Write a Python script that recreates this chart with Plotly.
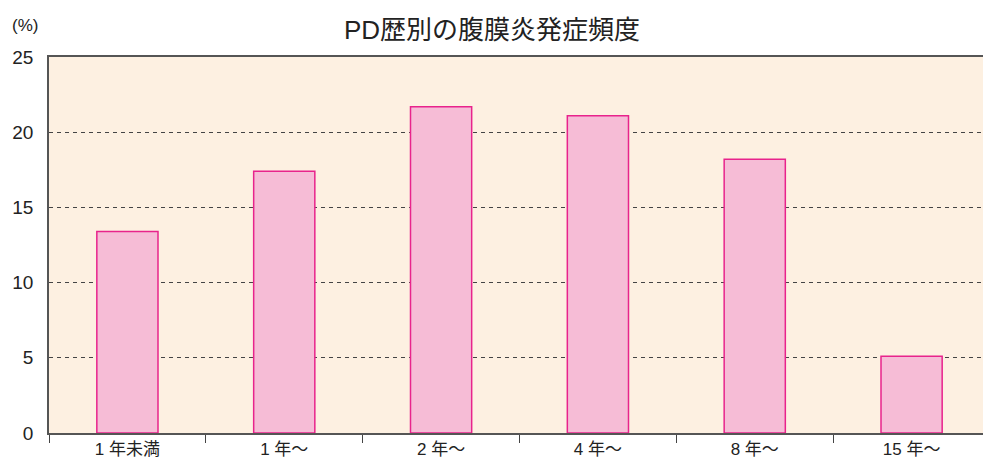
import plotly.graph_objects as go

categories = ["1 年未満", "1 年～", "2 年～", "4 年～", "8 年～", "15 年～"]
values = [13.4, 17.4, 21.7, 21.1, 18.2, 5.1]
y_ticks = [0, 5, 10, 15, 20, 25]
title_text = "PD歴別の腹膜炎発症頻度"
unit_text = "(%)"

FONT = "Liberation Sans, Arial, Noto Sans CJK JP, sans-serif"

fig = go.Figure(
    go.Bar(
        x=categories,
        y=values,
        width=0.39,
        marker=dict(color="#F6BCD6", line=dict(color="#E8238C", width=1.5)),
    )
)

fig.update_layout(
    width=990,
    height=460,
    margin=dict(l=49, r=0, t=57, b=27),
    paper_bgcolor="white",
    plot_bgcolor="#FDF0E1",
    showlegend=False,
    font=dict(family=FONT, color="#222222"),
    title=dict(
        text=title_text,
        x=492 / 990,
        xanchor="center",
        y=1 - 30 / 460,
        yanchor="middle",
        font=dict(size=26, color="#222222", family=FONT),
    ),
    annotations=[
        dict(
            text=unit_text,
            xref="paper",
            yref="paper",
            x=-39 / 941,
            y=1 + 32 / 376,
            xanchor="left",
            yanchor="middle",
            showarrow=False,
            font=dict(size=17, color="#222222", family=FONT),
        )
    ],
)

fig.update_xaxes(
    type="category",
    showline=True,
    linecolor="#555555",
    linewidth=1.5,
    mirror=True,
    ticks="outside",
    tickson="boundaries",
    ticklen=8,
    tickcolor="#444444",
    tickwidth=1,
    showgrid=False,
    tickfont=dict(size=17, color="#222222"),
)

fig.update_yaxes(
    range=[0, 25],
    tickvals=y_ticks,
    showline=True,
    linecolor="#555555",
    linewidth=1.5,
    ticks="",
    showgrid=True,
    gridcolor="#444444",
    griddash="4px,4px",
    gridwidth=1,
    zeroline=False,
    tickfont=dict(size=19, color="#222222"),
    ticklabelstandoff=10,
)

fig.write_html(
    "out.html",
    config={"displayModeBar": False},
    post_script="document.body.style.margin='0';document.body.style.padding='0';document.body.style.overflow='hidden';",
)
